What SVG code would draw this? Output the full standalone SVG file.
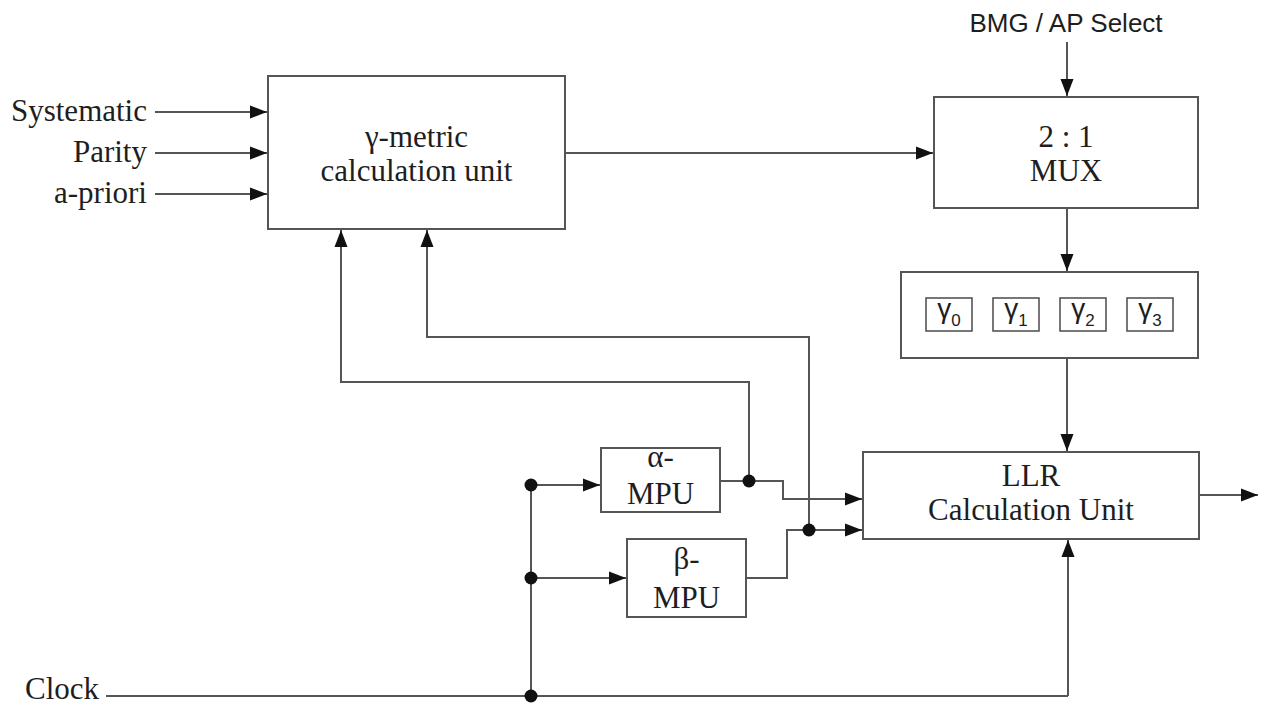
<svg xmlns="http://www.w3.org/2000/svg" width="1266" height="707" viewBox="0 0 1266 707">
<style>
.box{fill:#fff;stroke:#555;stroke-width:2}
.sbox{fill:#fff;stroke:#555;stroke-width:1.6}
.ln{fill:none;stroke:#555;stroke-width:2}
.arr{marker-end:url(#ah)}
.t{font-family:"Liberation Serif","Times New Roman",serif;font-size:31px;fill:#1e1e1e}
.s{font-family:"Liberation Sans",Arial,sans-serif;fill:#1e1e1e}
.dot{fill:#111}
</style>
<defs>
<marker id="ah" markerUnits="userSpaceOnUse" markerWidth="18" markerHeight="14" refX="17" refY="7" orient="auto">
<path d="M0,0.5 L17,7 L0,13.5 Z" fill="#111"/>
</marker>
</defs>

<g id="connectors">
<path class="ln arr" d="M155,112 H267"/>
<path class="ln arr" d="M155,153 H267"/>
<path class="ln arr" d="M155,194 H267"/>
<path class="ln arr" d="M565,153 H933"/>
<path class="ln arr" d="M1067,42 V96"/>
<path class="ln arr" d="M1067,208 V271"/>
<path class="ln arr" d="M1067,358 V451"/>
<path class="ln arr" d="M1199,495 H1258"/>
<path class="ln" d="M106,696 H1068"/>
<path class="ln arr" d="M1068,696 V540"/>
<path class="ln" d="M531,485 V696"/>
<path class="ln arr" d="M531,485 H600"/>
<path class="ln arr" d="M531,578 H626"/>
<path class="ln arr" d="M720,481 H783 V499 H862"/>
<path class="ln arr" d="M746,578 H787 V530 H862"/>
<path class="ln arr" d="M749,481 V382 H341 V230"/>
<path class="ln arr" d="M809,530 V337 H427 V230"/>
<circle class="dot" cx="531" cy="485" r="6.5"/>
<circle class="dot" cx="531" cy="578" r="6.5"/>
<circle class="dot" cx="531" cy="696" r="6.5"/>
<circle class="dot" cx="749" cy="481" r="6.5"/>
<circle class="dot" cx="809" cy="530" r="6.5"/>
</g>

<g id="inputs">
<text class="t" x="147" y="121" text-anchor="end">Systematic</text>
<text class="t" x="147" y="162" text-anchor="end">Parity</text>
<text class="t" x="147" y="203" text-anchor="end">a-priori</text>
<text class="t" x="25" y="699">Clock</text>
<text class="s" x="1066" y="32" font-size="26" text-anchor="middle">BMG / AP Select</text>
</g>

<g id="gamma-unit">
<rect class="box" x="268" y="76" width="297" height="153"/>
<text class="t" x="416.5" y="147" text-anchor="middle">γ-metric</text>
<text class="t" x="416.5" y="181" text-anchor="middle">calculation unit</text>
</g>

<g id="mux">
<rect class="box" x="934" y="97" width="264" height="111"/>
<text class="t" x="1066" y="147" text-anchor="middle">2 : 1</text>
<text class="t" x="1066" y="181" text-anchor="middle">MUX</text>
</g>

<g id="gamma-registers">
<rect class="box" x="901" y="272" width="297" height="86"/>
<rect class="sbox" x="926" y="298" width="46" height="33"/>
<rect class="sbox" x="993" y="298" width="46" height="33"/>
<rect class="sbox" x="1060" y="298" width="46" height="33"/>
<rect class="sbox" x="1127" y="298" width="46" height="33"/>
<text class="s" x="949" y="318" font-size="28" text-anchor="middle">γ<tspan font-size="17" dy="8">0</tspan></text>
<text class="s" x="1016" y="318" font-size="28" text-anchor="middle">γ<tspan font-size="17" dy="8">1</tspan></text>
<text class="s" x="1083" y="318" font-size="28" text-anchor="middle">γ<tspan font-size="17" dy="8">2</tspan></text>
<text class="s" x="1150" y="318" font-size="28" text-anchor="middle">γ<tspan font-size="17" dy="8">3</tspan></text>
</g>

<g id="llr-unit">
<rect class="box" x="863" y="452" width="336" height="87"/>
<text class="t" x="1031" y="486" text-anchor="middle">LLR</text>
<text class="t" x="1031" y="520" text-anchor="middle">Calculation Unit</text>
</g>

<g id="alpha-mpu">
<rect class="box" x="601" y="448" width="119" height="64"/>
<text class="t" x="660.5" y="467" text-anchor="middle">α-</text>
<text class="t" x="660.5" y="504" text-anchor="middle">MPU</text>
</g>

<g id="beta-mpu">
<rect class="box" x="627" y="539" width="119" height="78"/>
<text class="t" x="686.5" y="569" text-anchor="middle">β-</text>
<text class="t" x="686.5" y="608" text-anchor="middle">MPU</text>
</g>
</svg>
